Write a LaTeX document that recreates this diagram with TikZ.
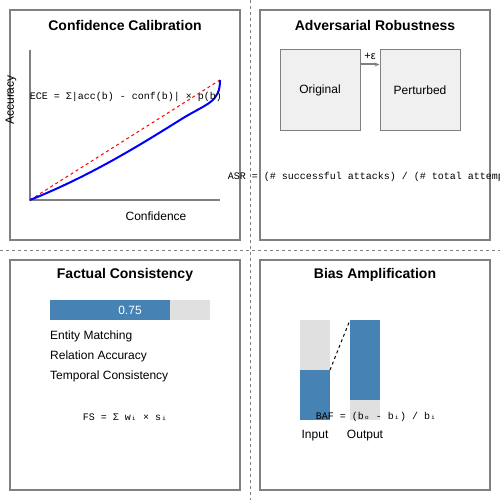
\documentclass[tikz,border=0pt]{standalone}
\usepackage{fontspec}
\setmainfont{Liberation Sans}
\setmonofont{Liberation Mono}
\newfontfamily\subf{DejaVu Sans Mono}
\usetikzlibrary{arrows.meta}
\definecolor{frame}{HTML}{808080}
\definecolor{boxfill}{HTML}{F0F0F0}
\definecolor{steel}{HTML}{4682B4}
\definecolor{lgray}{HTML}{E0E0E0}
\tikzset{
  panel/.style={draw=frame, line width=2pt},
  divider/.style={draw=frame, line width=1pt, dash pattern=on 3pt off 3pt},
  ttl/.style={font=\fontsize{14}{16}\selectfont\bfseries, inner sep=0pt},
  lbl/.style={font=\fontsize{12}{14}\selectfont, inner sep=0pt},
  mono/.style={font=\fontsize{10}{12}\selectfont\ttfamily, inner sep=0pt},
  axis/.style={draw=frame, line width=2pt},
  imgbox/.style={draw=frame, line width=1pt, fill=boxfill, minimum width=80pt, minimum height=80pt, inner sep=0pt, font=\fontsize{12}{14}\selectfont},
}
\begin{document}
\begin{tikzpicture}[x=1pt,y=-1pt]
\useasboundingbox (0,0) rectangle (500,500);
\clip (0,0) rectangle (500,500);
% dividers
\coordinate (vt) at (250,0); \coordinate (vb) at (250,500);
\coordinate (hl) at (0,250); \coordinate (hr) at (500,250);
\draw[divider] (vt) -- (vb);
\draw[divider] (hl) -- (hr);
% panels
\draw[panel] (10,10) rectangle (240,240);
\draw[panel] (260,10) rectangle (490,240);
\draw[panel] (10,260) rectangle (240,490);
\draw[panel] (260,260) rectangle (490,490);

% Panel 1
\node[ttl] (t1) at (125,25) {Confidence Calibration};
\coordinate (ytop) at (30,50);
\coordinate (orig0) at (30,200);
\coordinate (xend) at (220,200);
\coordinate (tr) at (220,80);
\draw[axis] (ytop) -- (orig0) -- (xend);
\draw[red, line width=1pt, dash pattern=on 3pt off 3pt] (orig0) -- (tr);
\draw[blue, line width=2pt] (orig0) .. controls (90,176) and (140,145) .. (180,120) .. controls (207,103) and (220,103) .. (tr);
\node[lbl, rotate=90] (ylab) at (11,100) {Accuracy};
\node[lbl] (xlab) at (156,216) {Confidence};
\node[mono] (ece) at (126,97) {ECE = Σ|acc(b) - conf(b)| × p(b)};

% Panel 2
\node[ttl] (t2) at (375,25) {Adversarial Robustness};
\node[imgbox] (orig) at (320,90) {Original};
\node[imgbox] (pert) at (420,90) {Perturbed};
\draw[frame, line width=2pt, -{Stealth[length=5pt,width=4pt]}] ([yshift=-15pt]orig.north east) -- ([yshift=-15pt]pert.north west);
\node[font=\fontsize{11}{12}\selectfont, inner sep=0pt] (eps) at (370,56) {+ε};
\node[mono] (asr) at (375,177) {ASR = (\# successful attacks) / (\# total attempts)};

% Panel 3
\node[ttl] (t3) at (125,275) {Factual Consistency};
\fill[lgray] (50,300) rectangle (210,320);
\fill[steel] (50,300) rectangle (170,320);
\node[lbl, text=white] (score) at (130,310) {0.75};
\node[lbl, anchor=west] (e1) at (50,336) {Entity Matching};
\node[lbl, anchor=west] (e2) at (50,356) {Relation Accuracy};
\node[lbl, anchor=west] (e3) at (50,376) {Temporal Consistency};
\node[mono] (fs) at (125,417) {FS = Σ w{\subf ᵢ} × s{\subf ᵢ}};

% Panel 4
\node[ttl] (t4) at (375,275) {Bias Amplification};
\fill[lgray] (300,320) rectangle (330,370);
\fill[steel] (300,370) rectangle (330,420);
\fill[steel] (350,320) rectangle (380,400);
\fill[lgray] (350,400) rectangle (380,420);
\coordinate (inTop) at (330,370);
\coordinate (outTop) at (350,320);
\draw[black, line width=1pt, dash pattern=on 3pt off 3pt] (inTop) -- (outTop);
\node[mono] (baf) at (376,417) {BAF = (b{\subf ₒ} - b{\subf ᵢ}) / b{\subf ᵢ}};
\node[lbl] (inl) at (315,436) {Input};
\node[lbl] (outl) at (365,436) {Output};
\end{tikzpicture}
\end{document}
